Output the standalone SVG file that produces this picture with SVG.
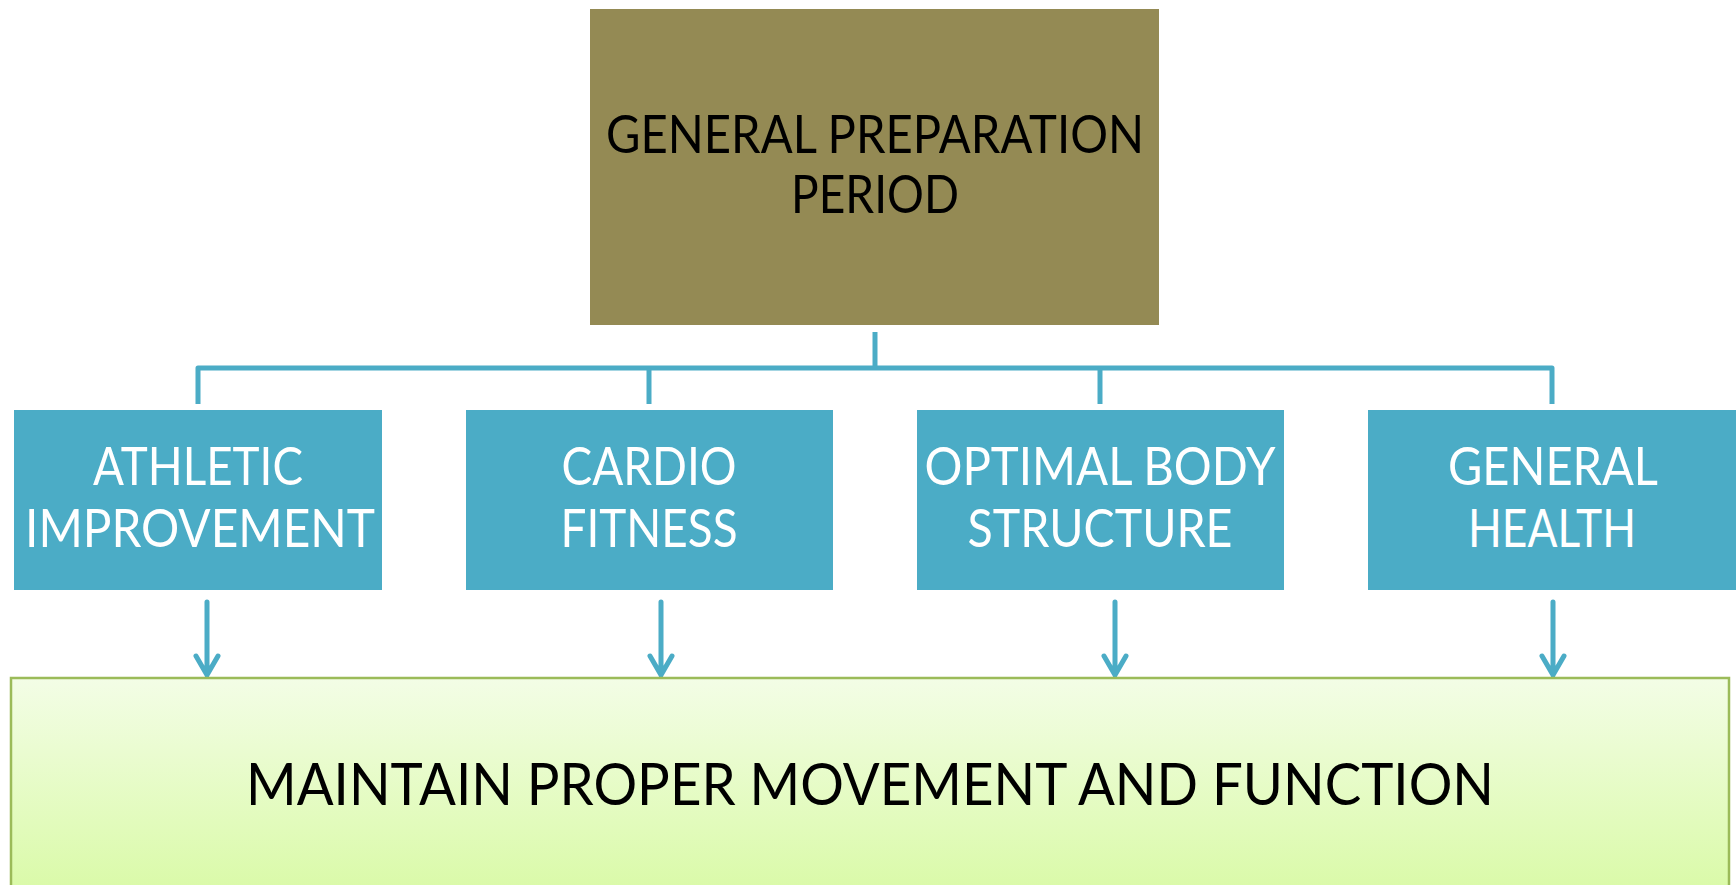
<svg xmlns="http://www.w3.org/2000/svg" width="1736" height="885" viewBox="0 0 1736 885">
<defs>
<linearGradient id="gb" x1="0" y1="0" x2="0" y2="1">
<stop offset="0" stop-color="#F3FDE6"/>
<stop offset="1" stop-color="#D9FAA6"/>
</linearGradient>
<style>
.t{font-family:Lato,"Liberation Sans",sans-serif;text-anchor:middle}
.w{fill:#FFFFFF;font-size:52px}
.k{fill:#000000}
.blue{fill:#4BACC6}
.conn{fill:none;stroke:#4BACC6;stroke-width:5;stroke-linejoin:round}
.arr{fill:none;stroke:#4BACC6;stroke-width:5;stroke-linecap:round;stroke-linejoin:round}
</style>
</defs>
<rect width="1736" height="885" fill="#FFFFFF"/>
<g id="top">
<rect x="590" y="9" width="569" height="316" fill="#948A54"/>
<text class="t k" font-size="53" x="875" y="153" textLength="538" lengthAdjust="spacingAndGlyphs">GENERAL PREPARATION</text>
<text class="t k" font-size="53" x="875" y="213" textLength="168" lengthAdjust="spacingAndGlyphs">PERIOD</text>
</g>
<g id="connectors">
<path class="conn" d="M875,332 V368"/>
<path class="conn" d="M198,404 V368 H1552 V404"/>
<path class="conn" d="M649,368 V404"/>
<path class="conn" d="M1100,368 V404"/>
<path class="arr" d="M207,602 V675 M196,656 L207,675 L218,656"/>
<path class="arr" d="M661,602 V675 M650,656 L661,675 L672,656"/>
<path class="arr" d="M1115,602 V675 M1104,656 L1115,675 L1126,656"/>
<path class="arr" d="M1553,602 V675 M1542,656 L1553,675 L1564,656"/>
</g>
<g id="n1">
<rect class="blue" x="14" y="410" width="368" height="180"/>
<text class="t w" x="198" y="485" textLength="210" lengthAdjust="spacingAndGlyphs">ATHLETIC</text>
<text class="t w" x="200" y="547" textLength="350" lengthAdjust="spacingAndGlyphs">IMPROVEMENT</text>
</g>
<g id="n2">
<rect class="blue" x="466" y="410" width="367" height="180"/>
<text class="t w" x="649" y="485" textLength="175" lengthAdjust="spacingAndGlyphs">CARDIO</text>
<text class="t w" x="649" y="547" textLength="177" lengthAdjust="spacingAndGlyphs">FITNESS</text>
</g>
<g id="n3">
<rect class="blue" x="917" y="410" width="367" height="180"/>
<text class="t w" x="1100" y="485" textLength="351" lengthAdjust="spacingAndGlyphs">OPTIMAL BODY</text>
<text class="t w" x="1100" y="547" textLength="265" lengthAdjust="spacingAndGlyphs">STRUCTURE</text>
</g>
<g id="n4">
<rect class="blue" x="1368" y="410" width="368" height="180"/>
<text class="t w" x="1553" y="485" textLength="210" lengthAdjust="spacingAndGlyphs">GENERAL</text>
<text class="t w" x="1552" y="547" textLength="168" lengthAdjust="spacingAndGlyphs">HEALTH</text>
</g>
<g id="bottom">
<rect x="11" y="678" width="1718" height="220" fill="url(#gb)" stroke="#9BBB59" stroke-width="2.5"/>
<text class="t k" font-size="59" x="870" y="805" textLength="1248" lengthAdjust="spacingAndGlyphs">MAINTAIN PROPER MOVEMENT AND FUNCTION</text>
</g>
</svg>
